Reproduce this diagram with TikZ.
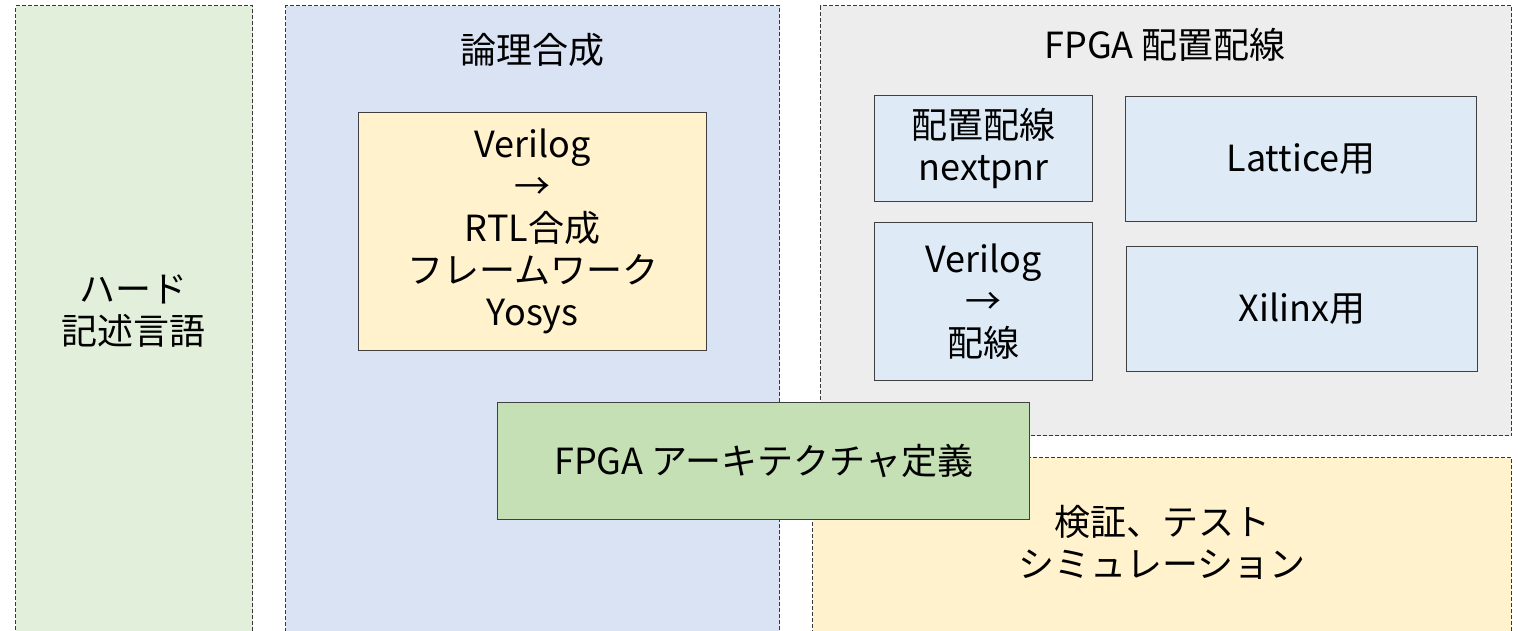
\documentclass[tikz,border=0pt]{standalone}
\usepackage{fontspec}
\setmainfont{Noto Sans CJK JP}
\usetikzlibrary{positioning}

\definecolor{hdlgreen}{HTML}{E2EFDA}
\definecolor{synthblue}{HTML}{DAE3F3}
\definecolor{pnrgray}{HTML}{EDEDED}
\definecolor{notecream}{HTML}{FFF2CC}
\definecolor{toolblue}{HTML}{DEEBF7}
\definecolor{archgreen}{HTML}{C5E0B4}
\definecolor{panelline}{HTML}{383838}
\definecolor{boxline}{HTML}{404040}

\begin{document}
\begin{tikzpicture}[
    x=1pt, y=-1pt,
    every node/.style={
        rectangle,
        align=center,
        inner sep=0pt,
        font=\fontsize{36}{42}\selectfont
    },
    panel/.style={draw=panelline, dash pattern=on 4pt off 2pt, line width=1.1pt, anchor=north west},
    toolbox/.style={draw=boxline, line width=1.3pt, anchor=north west}
]
\useasboundingbox (0,0) rectangle (1518,630);
\clip (0,0) rectangle (1518,630);

% dashed panels
\node[panel, fill=hdlgreen, minimum width=237pt, minimum height=640pt] (hdl) at (15,5) {};
\node[panel, fill=synthblue, minimum width=494pt, minimum height=640pt] (synth) at (285,5) {};
\node[panel, fill=pnrgray, minimum width=691pt, minimum height=430pt] (pnr) at (820,5) {};
\node[panel, fill=notecream, minimum width=699pt, minimum height=200pt] (verif) at (812,457) {};

% panel texts
\node (hdltext) at (133.5,311) {ハード\\記述言語};
\node (synthtitle) at (532,50) {論理合成};
\node (pnrtitle) at (1165,45) {FPGA 配置配線};
\node (veriftext) at (1162,542) {検証、テスト\\シミュレーション};

% tool boxes
\node[toolbox, fill=notecream, minimum width=348pt, minimum height=238pt] (yosys) at (358,112)
    {Verilog\\→\\RTL合成\\フレームワーク\\Yosys};
\node[toolbox, fill=toolblue, minimum width=218pt, minimum height=106pt] (nextpnr) at (874,95)
    {配置配線\\nextpnr};
\node[toolbox, fill=toolblue, minimum width=218pt, minimum height=158pt] (vlogroute) at (874,222)
    {Verilog\\→\\配線};
\node[toolbox, fill=toolblue, minimum width=351pt, minimum height=125pt] (lattice) at (1125,96)
    {Lattice用};
\node[toolbox, fill=toolblue, minimum width=351pt, minimum height=125pt] (xilinx) at (1126,246)
    {Xilinx用};

% architecture definition on top
\node[toolbox, fill=archgreen, minimum width=532pt, minimum height=117pt] (arch) at (497,402)
    {FPGA アーキテクチャ定義};

\end{tikzpicture}
\end{document}
